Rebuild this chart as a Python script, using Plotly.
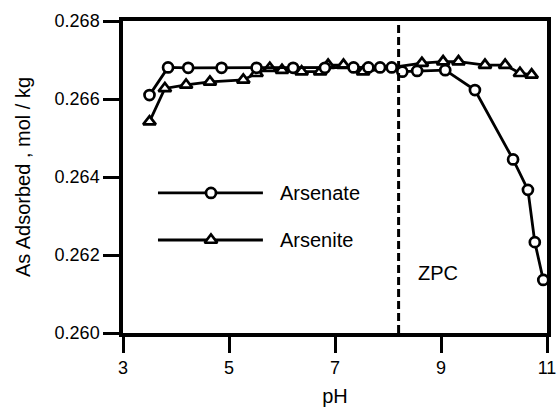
import plotly.graph_objects as go

# pH values and adsorbed amounts (mol/kg)
arsenate_ph = [3.5, 3.85, 4.23, 4.86, 5.52, 6.21, 6.81, 7.35, 7.63, 7.85, 8.07, 8.27, 8.55, 9.08, 9.64, 10.36, 10.64, 10.77, 10.93]
arsenate_y = [0.2661, 0.26681, 0.2668, 0.2668, 0.2668, 0.2668, 0.2668, 0.26681, 0.26681, 0.26681, 0.26681,
              0.2667, 0.26672, 0.26674, 0.26623, 0.26445, 0.26367, 0.26233, 0.26136]

arsenite_ph = [3.5, 3.79, 4.19, 4.64, 5.27, 5.52, 5.77, 6.0, 6.37, 6.72, 6.87, 7.16, 7.53, 8.64, 9.04, 9.33, 9.83, 10.21, 10.49, 10.71]
arsenite_y = [0.26542, 0.26627, 0.26636, 0.26644, 0.26649, 0.26666, 0.26679, 0.26674, 0.2667, 0.2667, 0.26687,
              0.26687, 0.2667, 0.26692, 0.26696, 0.26696, 0.26687, 0.26687, 0.26666, 0.26662]

zpc_ph = 8.2
x_ticks = [3, 5, 7, 9, 11]
y_ticks = [0.260, 0.262, 0.264, 0.266, 0.268]
series_names = ["Arsenate", "Arsenite"]

FONT = "Liberation Sans, Arial, Helvetica, sans-serif"

fig = go.Figure()

circle_marker = dict(symbol="circle", size=10, color="white", line=dict(color="black", width=2.7))
tri_marker = dict(symbol="triangle-up", size=11, color="white", line=dict(color="black", width=2.7))

fig.add_trace(go.Scatter(x=arsenite_ph, y=arsenite_y, mode="lines+markers",
                         line=dict(color="black", width=2.8), marker=tri_marker,
                         name=series_names[1], showlegend=False))
fig.add_trace(go.Scatter(x=arsenate_ph, y=arsenate_y, mode="lines+markers",
                         line=dict(color="black", width=2.8), marker=circle_marker,
                         name=series_names[0], showlegend=False))

# legend samples drawn in an overlay axis with range 0..1 (plot-area fractions)
leg_x = [0.0825, 0.2075, 0.330]
leg_y = [0.449, 0.298]
for name, yy, mk in zip(series_names, leg_y, [circle_marker, tri_marker]):
    fig.add_trace(go.Scatter(x=leg_x, y=[yy] * 3, xaxis="x2", yaxis="y2", mode="lines",
                             line=dict(color="black", width=2.8), showlegend=False, hoverinfo="skip"))
    fig.add_trace(go.Scatter(x=[leg_x[1]], y=[yy], xaxis="x2", yaxis="y2", mode="markers",
                             marker=mk, showlegend=False, hoverinfo="skip"))
    fig.add_annotation(x=0.366, y=yy, xref="x2", yref="y2", text=name, showarrow=False,
                       xanchor="left", yanchor="middle", font=dict(family=FONT, size=20, color="black"))

# ZPC line
fig.add_shape(type="line", x0=zpc_ph, x1=zpc_ph, y0=0, y1=1, xref="x", yref="paper",
              line=dict(color="black", width=3, dash="8px,4px"))
fig.add_annotation(x=8.95, y=0.26153, xref="x", yref="y", text="ZPC", showarrow=False,
                   font=dict(family=FONT, size=20, color="black"))

axis_common = dict(showgrid=False, zeroline=False, showline=True, linecolor="black", linewidth=3.5,
                   mirror=True, ticks="outside", ticklen=16, tickwidth=3, tickcolor="black",
                   automargin=False,
                   tickfont=dict(family=FONT, size=18, color="black"))

fig.update_layout(
    width=558, height=407,
    margin=dict(l=123, r=11, t=21, b=74, autoexpand=False),
    paper_bgcolor="white", plot_bgcolor="white",
    xaxis=dict(range=[3, 11], tickvals=x_ticks, ticktext=[str(v) for v in x_ticks],
               title=dict(text="pH", font=dict(family=FONT, size=20, color="black"), standoff=14),
               **axis_common),
    yaxis=dict(range=[0.260, 0.268], tickvals=y_ticks, ticktext=[f"{v:.3f}" for v in y_ticks],
               title=dict(text="As Adsorbed , mol / kg", font=dict(family=FONT, size=20, color="black"), standoff=20),
               **axis_common),
    xaxis2=dict(overlaying="x", range=[0, 1], visible=False, fixedrange=True),
    yaxis2=dict(overlaying="y", range=[0, 1], visible=False, fixedrange=True),
)

fig.write_html("out.html")
